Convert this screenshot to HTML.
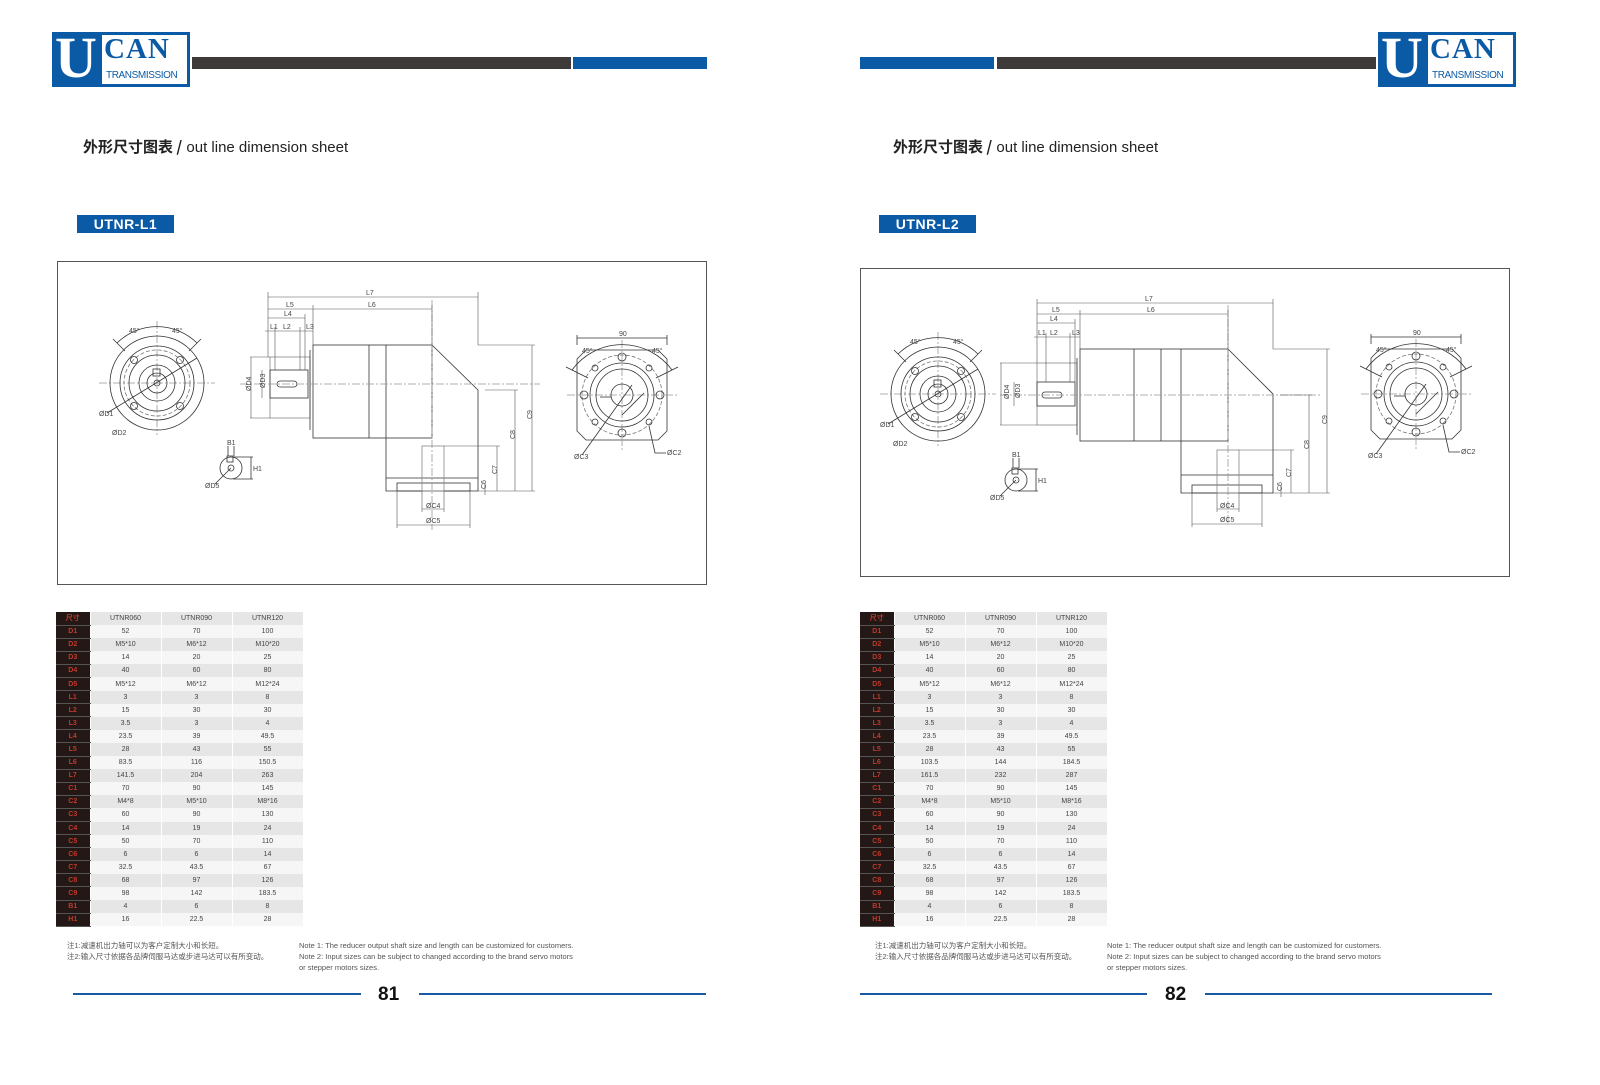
<!DOCTYPE html>
<html><head><meta charset="utf-8">
<style>
*{margin:0;padding:0;box-sizing:border-box}
body{width:1600px;height:1085px;background:#fff;position:relative;overflow:hidden;font-family:"Liberation Sans","Noto Sans CJK SC",sans-serif;color:#222}
.a{position:absolute}
.logo{position:absolute;width:138px;height:55px;background:#0b5aa6}
.logo .u{position:absolute;left:3px;top:-4px;font:bold 58px "Liberation Serif",serif;color:#fff;line-height:60px}
.logo .w{position:absolute;left:50px;top:3px;width:85px;height:49px;background:#fff;overflow:hidden}
.logo .can{position:absolute;left:2px;top:-2px;font:bold 29px "Liberation Serif",serif;color:#0b5aa6;letter-spacing:1px;line-height:32px}
.logo .tr{position:absolute;left:4px;top:35px;font:10px "Liberation Sans",sans-serif;color:#0b5aa6;letter-spacing:-0.4px}
.bar{position:absolute;height:12px}
.title{position:absolute;font-size:15px;color:#222}
.title b{font-family:"Noto Sans CJK SC",sans-serif}
.tag{position:absolute;width:97px;height:18px;background:#0b5aa6;color:#fff;font:bold 14px/18px "Liberation Sans",sans-serif;text-align:center;letter-spacing:.5px}
.frame{position:absolute;border:1px solid #555}
table{position:absolute;border-collapse:collapse;font-size:7px;color:#444}
td{height:13.1px;padding:0;text-align:center;width:71px;border-right:1px solid #fff}
td.k{width:34px;background:#231815;color:#c0392b;font-weight:bold;border-bottom:1px solid #555}
tr:nth-child(odd) td{background:#e6e6e6}
tr:nth-child(even) td{background:#f6f6f6}
tr td.k{background:#231815 !important}
.note{position:absolute;font-size:7.5px;color:#555;line-height:11px}
.fl{position:absolute;height:2px;background:#1a5aa5}
.pn{position:absolute;font:bold 19px "Liberation Sans",sans-serif;color:#111}
</style></head><body>

<div class="logo" style="left:52px;top:32px"><div class="u">U</div><div class="w"><div class="can">CAN</div><div class="tr">TRANSMISSION</div></div></div>
<div class="bar" style="left:192px;top:57px;width:379px;background:#3e3a39"></div>
<div class="bar" style="left:573px;top:57px;width:134px;background:#0b5aa6"></div>

<div class="bar" style="left:860px;top:57px;width:134px;background:#0b5aa6"></div>
<div class="bar" style="left:997px;top:57px;width:379px;background:#3e3a39"></div>
<div class="logo" style="left:1378px;top:32px"><div class="u">U</div><div class="w"><div class="can">CAN</div><div class="tr">TRANSMISSION</div></div></div>

<div class="title" style="left:83px;top:136px"><b>外形尺寸图表 /</b> out line dimension sheet</div>
<div class="title" style="left:893px;top:136px"><b>外形尺寸图表 /</b> out line dimension sheet</div>

<div class="tag" style="left:77px;top:215px">UTNR-L1</div>
<div class="tag" style="left:879px;top:215px">UTNR-L2</div>

<div class="frame" style="left:57px;top:261px;width:650px;height:324px"></div>
<div class="frame" style="left:860px;top:268px;width:650px;height:309px"></div>

<svg class="a" style="left:0;top:0" width="1600" height="1085" viewBox="0 0 1600 1085" fill="none" stroke="#333" stroke-width="0.8" font-family="Liberation Sans" font-size="7">
<defs>
 <g id="cv">
  <line x1="-58" y1="0" x2="58" y2="0" stroke="#999" stroke-dasharray="8 2 2 2"/>
  <line x1="0" y1="-62" x2="0" y2="52" stroke="#999" stroke-dasharray="8 2 2 2"/>
  <circle r="47"/><circle r="37"/><circle r="33" stroke-dasharray="4 2" stroke="#777"/><circle r="28"/><circle r="18"/><circle r="10"/><circle r="3"/>
  <circle cx="-23" cy="-23" r="3.5"/><circle cx="23" cy="-23" r="3.5"/><circle cx="-23" cy="23" r="3.5"/><circle cx="23" cy="23" r="3.5"/>
  <rect x="-4" y="-14" width="7" height="7"/>
  <path d="M-40 -40 A57 57 0 0 1 40 -40" /><line x1="-44" y1="-44" x2="-32" y2="-32"/><line x1="44" y1="-44" x2="32" y2="-32"/>
  <line x1="-50" y1="30" x2="40" y2="-25"/>
  <text x="-28" y="-50" stroke="none" fill="#444">45°</text><text x="15" y="-50" stroke="none" fill="#444">45°</text>
  <text x="-58" y="33" stroke="none" fill="#444">ØD1</text><text x="-45" y="52" stroke="none" fill="#444">ØD2</text>
 </g>
 <g id="sv">
  <path d="M-36 -45 H36 L45 -36 V36 L36 45 H-36 L-45 36 V-36 Z"/>
  <line x1="-55" y1="0" x2="55" y2="0" stroke="#999" stroke-dasharray="8 2 2 2"/>
  <line x1="0" y1="-55" x2="0" y2="55" stroke="#999" stroke-dasharray="8 2 2 2"/>
  <circle r="40" stroke-dasharray="4 2" stroke="#777"/><circle r="32"/><circle r="26"/><circle r="11"/>
  <circle cx="0" cy="-38" r="4"/><circle cx="0" cy="38" r="4"/><circle cx="-38" cy="0" r="4"/><circle cx="38" cy="0" r="4"/>
  <circle cx="-27" cy="-27" r="3"/><circle cx="27" cy="-27" r="3"/><circle cx="-27" cy="27" r="3"/><circle cx="27" cy="27" r="3"/>
  <line x1="-22" y1="2" x2="-11" y2="2"/><path d="M0 20 L22 -2"/>
  <path d="M-50 -25 A62 62 0 0 1 50 -25"/><line x1="-56" y1="-28" x2="-34" y2="-17"/><line x1="56" y1="-28" x2="34" y2="-17"/>
  <line x1="-45" y1="-50" x2="-45" y2="-60"/><line x1="45" y1="-50" x2="45" y2="-60"/><line x1="-45" y1="-57" x2="45" y2="-57"/>
  <text x="-3" y="-59" stroke="none" fill="#444">90</text>
  <text x="-40" y="-42" stroke="none" fill="#444">45°</text><text x="30" y="-42" stroke="none" fill="#444">45°</text>
  <line x1="-40" y1="60" x2="10" y2="-10"/><text x="-48" y="64" stroke="none" fill="#444">ØC3</text>
  <path d="M27 31 L33 58 H44"/><text x="45" y="60" stroke="none" fill="#444">ØC2</text>
 </g>
 <g id="kv">
  <circle r="11"/><circle r="3"/><rect x="-4" y="-12" width="6" height="6"/>
  <line x1="-3" y1="-12" x2="-3" y2="-22"/><line x1="3" y1="-12" x2="3" y2="-22"/><text x="-4" y="-23" stroke="none" fill="#444">B1</text>
  <line x1="2" y1="-11" x2="22" y2="-11"/><line x1="2" y1="11" x2="22" y2="11"/><line x1="20" y1="-11" x2="20" y2="11"/>
  <text x="22" y="3" stroke="none" fill="#444">H1</text>
  <line x1="-16" y1="16" x2="0" y2="0"/><text x="-26" y="20" stroke="none" fill="#444">ØD5</text>
 </g>
</defs>

<use href="#cv" x="157" y="383"/>
<use href="#sv" x="622" y="395"/>
<use href="#kv" x="231" y="468"/>
<g>
 <rect x="313" y="345" width="119" height="93"/>
 <line x1="369" y1="345" x2="369" y2="438"/><line x1="386" y1="345" x2="386" y2="438"/>
 <path d="M432 345 L478 390 V491 H386 V438"/>
 <line x1="386" y1="478" x2="478" y2="478"/>
 <rect x="397" y="483" width="73" height="8"/>
 <rect x="270" y="357" width="40" height="61" stroke="#888"/>
 <rect x="270" y="370" width="38" height="28"/>
 <rect x="277" y="381" width="20" height="6" rx="3"/>
 <line x1="310" y1="350" x2="310" y2="430"/>
 <line x1="240" y1="384" x2="540" y2="384" stroke="#999" stroke-dasharray="8 2 2 2"/>
 <line x1="432" y1="300" x2="432" y2="530" stroke="#999" stroke-dasharray="8 2 2 2"/>
 <rect x="422" y="446" width="22" height="45" stroke="#888"/>
 <g stroke="#555" stroke-width="0.6">
 <line x1="268" y1="297" x2="478" y2="297"/><line x1="268" y1="292" x2="268" y2="357"/><line x1="478" y1="292" x2="478" y2="345"/>
 <line x1="268" y1="309" x2="432" y2="309"/><line x1="313" y1="305" x2="313" y2="345"/><line x1="432" y1="305" x2="432" y2="345"/>
 <line x1="268" y1="318" x2="305" y2="318"/><line x1="305" y1="314" x2="305" y2="370"/>
 <line x1="265" y1="331" x2="313" y2="331"/><line x1="275" y1="327" x2="275" y2="370"/><line x1="300" y1="327" x2="300" y2="370"/>
 <line x1="250" y1="357" x2="270" y2="357"/><line x1="250" y1="418" x2="270" y2="418"/><line x1="251" y1="357" x2="251" y2="418"/>
 <line x1="262" y1="370" x2="262" y2="398"/>
 <line x1="478" y1="345" x2="535" y2="345"/><line x1="532" y1="345" x2="532" y2="491"/>
 <line x1="485" y1="390" x2="518" y2="390"/><line x1="515" y1="390" x2="515" y2="491"/>
 <line x1="444" y1="446" x2="500" y2="446"/><line x1="497" y1="446" x2="497" y2="491"/>
 <line x1="478" y1="491" x2="535" y2="491"/><line x1="485" y1="483" x2="485" y2="495"/>
 <line x1="422" y1="491" x2="422" y2="512"/><line x1="444" y1="491" x2="444" y2="512"/><line x1="422" y1="509" x2="444" y2="509"/>
 <line x1="397" y1="491" x2="397" y2="528"/><line x1="470" y1="491" x2="470" y2="528"/><line x1="397" y1="525" x2="470" y2="525"/>
 </g>
 <g stroke="none" fill="#444">
 <text x="366" y="295">L7</text><text x="368" y="307">L6</text><text x="286" y="307">L5</text><text x="284" y="316">L4</text>
 <text x="270" y="329">L1</text><text x="283" y="329">L2</text><text x="306" y="329">L3</text>
 <text x="241" y="395" transform="rotate(-90 244 388)">ØD4</text><text x="255" y="392" transform="rotate(-90 258 385)">ØD3</text>
 <text x="525" y="420" transform="rotate(-90 528 416)">C9</text><text x="508" y="440" transform="rotate(-90 511 436)">C8</text>
 <text x="490" y="475" transform="rotate(-90 493 471)">C7</text><text x="479" y="490" transform="rotate(-90 482 486)">C6</text>
 <text x="426" y="508">ØC4</text><text x="426" y="523">ØC5</text>
 </g>
</g>

<use href="#cv" x="938" y="394"/>
<use href="#sv" x="1416" y="394"/>
<use href="#kv" x="1016" y="480"/>
<g>
 <rect x="1080" y="349" width="148" height="92"/>
 <line x1="1134" y1="349" x2="1134" y2="441"/><line x1="1161" y1="349" x2="1161" y2="441"/><line x1="1181" y1="349" x2="1181" y2="441"/>
 <path d="M1228 349 L1273 394 V493 H1181 V441"/>
 <line x1="1181" y1="475" x2="1273" y2="475"/>
 <rect x="1192" y="485" width="70" height="8"/>
 <rect x="1037" y="363" width="40" height="62" stroke="#888"/>
 <rect x="1037" y="382" width="38" height="24"/>
 <rect x="1042" y="392" width="20" height="6" rx="3"/>
 <line x1="1077" y1="358" x2="1077" y2="435"/>
 <line x1="1000" y1="395" x2="1320" y2="395" stroke="#999" stroke-dasharray="8 2 2 2"/>
 <line x1="1228" y1="305" x2="1228" y2="525" stroke="#999" stroke-dasharray="8 2 2 2"/>
 <rect x="1217" y="450" width="22" height="43" stroke="#888"/>
 <g stroke="#555" stroke-width="0.6">
 <line x1="1037" y1="303" x2="1273" y2="303"/><line x1="1037" y1="299" x2="1037" y2="363"/><line x1="1273" y1="299" x2="1273" y2="349"/>
 <line x1="1037" y1="314" x2="1228" y2="314"/><line x1="1080" y1="310" x2="1080" y2="349"/><line x1="1228" y1="310" x2="1228" y2="349"/>
 <line x1="1037" y1="323" x2="1075" y2="323"/><line x1="1075" y1="319" x2="1075" y2="382"/>
 <line x1="1034" y1="337" x2="1080" y2="337"/><line x1="1046" y1="333" x2="1046" y2="382"/><line x1="1070" y1="333" x2="1070" y2="382"/>
 <line x1="1000" y1="363" x2="1037" y2="363"/><line x1="1000" y1="425" x2="1037" y2="425"/><line x1="1001" y1="363" x2="1001" y2="425"/>
 <line x1="1014" y1="382" x2="1014" y2="406"/>
 <line x1="1273" y1="349" x2="1330" y2="349"/><line x1="1327" y1="349" x2="1327" y2="493"/>
 <line x1="1280" y1="395" x2="1312" y2="395"/><line x1="1309" y1="395" x2="1309" y2="493"/>
 <line x1="1239" y1="450" x2="1294" y2="450"/><line x1="1291" y1="450" x2="1291" y2="493"/>
 <line x1="1273" y1="493" x2="1330" y2="493"/><line x1="1281" y1="485" x2="1281" y2="497"/>
 <line x1="1217" y1="493" x2="1217" y2="512"/><line x1="1239" y1="493" x2="1239" y2="512"/><line x1="1217" y1="509" x2="1239" y2="509"/>
 <line x1="1192" y1="493" x2="1192" y2="527"/><line x1="1262" y1="493" x2="1262" y2="527"/><line x1="1192" y1="524" x2="1262" y2="524"/>
 </g>
 <g stroke="none" fill="#444">
 <text x="1145" y="301">L7</text><text x="1147" y="312">L6</text><text x="1052" y="312">L5</text><text x="1050" y="321">L4</text>
 <text x="1038" y="335">L1</text><text x="1050" y="335">L2</text><text x="1072" y="335">L3</text>
 <text x="1000" y="400" transform="rotate(-90 1004 395)">ØD4</text><text x="1012" y="398" transform="rotate(-90 1016 394)">ØD3</text>
 <text x="1320" y="425" transform="rotate(-90 1323 421)">C9</text><text x="1302" y="450" transform="rotate(-90 1305 446)">C8</text>
 <text x="1284" y="478" transform="rotate(-90 1287 474)">C7</text><text x="1275" y="492" transform="rotate(-90 1278 488)">C6</text>
 <text x="1220" y="508">ØC4</text><text x="1220" y="522">ØC5</text>
 </g>
</g>
</svg>

<table style="left:56px;top:612px">
<tr><td class="k">尺寸</td><td>UTNR060</td><td>UTNR090</td><td>UTNR120</td></tr>
<tr><td class="k">D1</td><td>52</td><td>70</td><td>100</td></tr>
<tr><td class="k">D2</td><td>M5*10</td><td>M6*12</td><td>M10*20</td></tr>
<tr><td class="k">D3</td><td>14</td><td>20</td><td>25</td></tr>
<tr><td class="k">D4</td><td>40</td><td>60</td><td>80</td></tr>
<tr><td class="k">D5</td><td>M5*12</td><td>M6*12</td><td>M12*24</td></tr>
<tr><td class="k">L1</td><td>3</td><td>3</td><td>8</td></tr>
<tr><td class="k">L2</td><td>15</td><td>30</td><td>30</td></tr>
<tr><td class="k">L3</td><td>3.5</td><td>3</td><td>4</td></tr>
<tr><td class="k">L4</td><td>23.5</td><td>39</td><td>49.5</td></tr>
<tr><td class="k">L5</td><td>28</td><td>43</td><td>55</td></tr>
<tr><td class="k">L6</td><td>83.5</td><td>116</td><td>150.5</td></tr>
<tr><td class="k">L7</td><td>141.5</td><td>204</td><td>263</td></tr>
<tr><td class="k">C1</td><td>70</td><td>90</td><td>145</td></tr>
<tr><td class="k">C2</td><td>M4*8</td><td>M5*10</td><td>M8*16</td></tr>
<tr><td class="k">C3</td><td>60</td><td>90</td><td>130</td></tr>
<tr><td class="k">C4</td><td>14</td><td>19</td><td>24</td></tr>
<tr><td class="k">C5</td><td>50</td><td>70</td><td>110</td></tr>
<tr><td class="k">C6</td><td>6</td><td>6</td><td>14</td></tr>
<tr><td class="k">C7</td><td>32.5</td><td>43.5</td><td>67</td></tr>
<tr><td class="k">C8</td><td>68</td><td>97</td><td>126</td></tr>
<tr><td class="k">C9</td><td>98</td><td>142</td><td>183.5</td></tr>
<tr><td class="k">B1</td><td>4</td><td>6</td><td>8</td></tr>
<tr><td class="k">H1</td><td>16</td><td>22.5</td><td>28</td></tr>
</table>

<table style="left:860px;top:612px">
<tr><td class="k">尺寸</td><td>UTNR060</td><td>UTNR090</td><td>UTNR120</td></tr>
<tr><td class="k">D1</td><td>52</td><td>70</td><td>100</td></tr>
<tr><td class="k">D2</td><td>M5*10</td><td>M6*12</td><td>M10*20</td></tr>
<tr><td class="k">D3</td><td>14</td><td>20</td><td>25</td></tr>
<tr><td class="k">D4</td><td>40</td><td>60</td><td>80</td></tr>
<tr><td class="k">D5</td><td>M5*12</td><td>M6*12</td><td>M12*24</td></tr>
<tr><td class="k">L1</td><td>3</td><td>3</td><td>8</td></tr>
<tr><td class="k">L2</td><td>15</td><td>30</td><td>30</td></tr>
<tr><td class="k">L3</td><td>3.5</td><td>3</td><td>4</td></tr>
<tr><td class="k">L4</td><td>23.5</td><td>39</td><td>49.5</td></tr>
<tr><td class="k">L5</td><td>28</td><td>43</td><td>55</td></tr>
<tr><td class="k">L6</td><td>103.5</td><td>144</td><td>184.5</td></tr>
<tr><td class="k">L7</td><td>161.5</td><td>232</td><td>287</td></tr>
<tr><td class="k">C1</td><td>70</td><td>90</td><td>145</td></tr>
<tr><td class="k">C2</td><td>M4*8</td><td>M5*10</td><td>M8*16</td></tr>
<tr><td class="k">C3</td><td>60</td><td>90</td><td>130</td></tr>
<tr><td class="k">C4</td><td>14</td><td>19</td><td>24</td></tr>
<tr><td class="k">C5</td><td>50</td><td>70</td><td>110</td></tr>
<tr><td class="k">C6</td><td>6</td><td>6</td><td>14</td></tr>
<tr><td class="k">C7</td><td>32.5</td><td>43.5</td><td>67</td></tr>
<tr><td class="k">C8</td><td>68</td><td>97</td><td>126</td></tr>
<tr><td class="k">C9</td><td>98</td><td>142</td><td>183.5</td></tr>
<tr><td class="k">B1</td><td>4</td><td>6</td><td>8</td></tr>
<tr><td class="k">H1</td><td>16</td><td>22.5</td><td>28</td></tr>
</table>

<div class="note" style="left:67px;top:940px">注1:减速机出力轴可以为客户定制大小和长短。<br>注2:输入尺寸依据各品牌伺服马达或步进马达可以有所变动。</div>
<div class="note" style="left:299px;top:940px">Note 1: The reducer output shaft size and length can be customized for customers.<br>Note 2: Input sizes can be subject to changed according to the brand servo motors<br>or stepper motors sizes.</div>
<div class="note" style="left:875px;top:940px">注1:减速机出力轴可以为客户定制大小和长短。<br>注2:输入尺寸依据各品牌伺服马达或步进马达可以有所变动。</div>
<div class="note" style="left:1107px;top:940px">Note 1: The reducer output shaft size and length can be customized for customers.<br>Note 2: Input sizes can be subject to changed according to the brand servo motors<br>or stepper motors sizes.</div>

<div class="fl" style="left:73px;top:993px;width:288px"></div>
<div class="fl" style="left:419px;top:993px;width:287px"></div>
<div class="pn" style="left:378px;top:984px">81</div>
<div class="fl" style="left:860px;top:993px;width:287px"></div>
<div class="fl" style="left:1205px;top:993px;width:287px"></div>
<div class="pn" style="left:1165px;top:984px">82</div>
</body></html>
